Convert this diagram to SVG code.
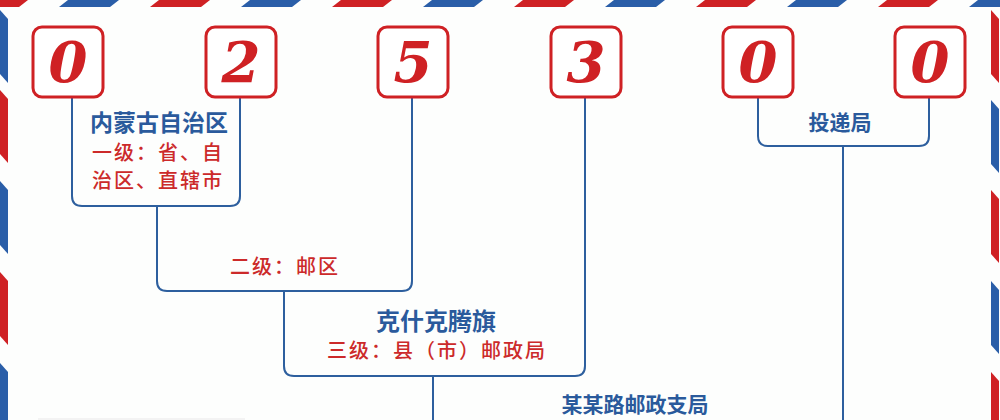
<svg xmlns="http://www.w3.org/2000/svg" width="1000" height="420" viewBox="0 0 1000 420">
<defs>
<style>
.red{fill:#cf2124}
.blue{fill:#2a5ea8}
.box{fill:#fff;stroke:#cf2124;stroke-width:3}
.digit{font-family:"DejaVu Serif","Liberation Serif",serif;font-weight:bold;font-style:italic;font-size:56px;fill:#cf2124;text-anchor:middle}
.conn{fill:none;stroke:#2d5f9e;stroke-width:2}
.h{font-family:"Noto Sans CJK SC",sans-serif;font-weight:bold;fill:#2a5a9c;text-anchor:middle}
.r{font-family:"Noto Sans CJK SC",sans-serif;font-weight:500;font-size:20px;letter-spacing:2px;fill:#cc2a2a;text-anchor:middle}
</style>
<polygon id="ts" points="0,7 9,0 60,0 51,7"/>
<polygon id="ls" points="0,0 8,9 8,73 0,64"/>
</defs>
<rect width="1000" height="420" fill="#fdfefd"/>
<g id="border">
<use href="#ts" x="-32" class="red"/>
<use href="#ts" x="59" class="blue"/>
<use href="#ts" x="150" class="red"/>
<use href="#ts" x="241" class="blue"/>
<use href="#ts" x="332" class="red"/>
<use href="#ts" x="423" class="blue"/>
<use href="#ts" x="514" class="red"/>
<use href="#ts" x="605" class="blue"/>
<use href="#ts" x="696" class="red"/>
<use href="#ts" x="787" class="blue"/>
<use href="#ts" x="878" class="red"/>
<use href="#ts" x="969" class="blue"/>
<use href="#ls" x="0" y="10" class="blue"/>
<use href="#ls" x="0" y="90" class="red"/>
<use href="#ls" x="0" y="181" class="blue"/>
<use href="#ls" x="0" y="272" class="red"/>
<use href="#ls" x="0" y="363" class="blue"/>
<use href="#ls" x="991" y="10" class="red"/>
<use href="#ls" x="991" y="100" class="blue"/>
<use href="#ls" x="991" y="190" class="red"/>
<use href="#ls" x="991" y="281" class="blue"/>
<use href="#ls" x="991" y="372" class="red"/>
</g>
<rect x="38" y="418" width="207" height="2" fill="#f3f3f3"/>
<g id="connectors">
<path class="conn" d="M72,98 V196 Q72,206 82,206 H230 Q240,206 240,196 V98"/>
<path class="conn" d="M157,206 V281 Q157,291 167,291 H402 Q412,291 412,281 V98"/>
<path class="conn" d="M284,291 V366 Q284,376 294,376 H575 Q585,376 585,366 V98"/>
<path class="conn" d="M433,376 V420"/>
<path class="conn" d="M758,98 V136 Q758,146 768,146 H919 Q929,146 929,136 V98"/>
<path class="conn" d="M843,146 V420"/>
</g>
<g id="d1"><rect class="box" x="33" y="27" width="70" height="70" rx="9"/><text class="digit" x="68" y="82">0</text></g>
<g id="d2"><rect class="box" x="206" y="27" width="70" height="70" rx="9"/><text class="digit" x="241" y="82">2</text></g>
<g id="d3"><rect class="box" x="378" y="27" width="70" height="70" rx="9"/><text class="digit" x="413" y="82">5</text></g>
<g id="d4"><rect class="box" x="551" y="27" width="70" height="70" rx="9"/><text class="digit" x="586" y="82">3</text></g>
<g id="d5"><rect class="box" x="723" y="27" width="70" height="70" rx="9"/><text class="digit" x="758" y="82">0</text></g>
<g id="d6"><rect class="box" x="895" y="27" width="70" height="70" rx="9"/><text class="digit" x="930" y="82">0</text></g>
<g id="n1">
<text class="h" x="159" y="131" font-size="23">内蒙古自治区</text>
<text class="r" x="158" y="160">一级：省、自</text>
<text class="r" x="158" y="188">治区、直辖市</text>
</g>
<g id="n2"><text class="r" x="285" y="274">二级：邮区</text></g>
<g id="n3">
<text class="h" x="436" y="330" font-size="24">克什克腾旗</text>
<text class="r" x="437" y="358">三级：县（市）邮政局</text>
</g>
<g id="n4"><text class="h" x="840" y="130" font-size="21">投递局</text></g>
<g id="n5"><text class="h" x="635" y="412" font-size="21">某某路邮政支局</text></g>
</svg>
